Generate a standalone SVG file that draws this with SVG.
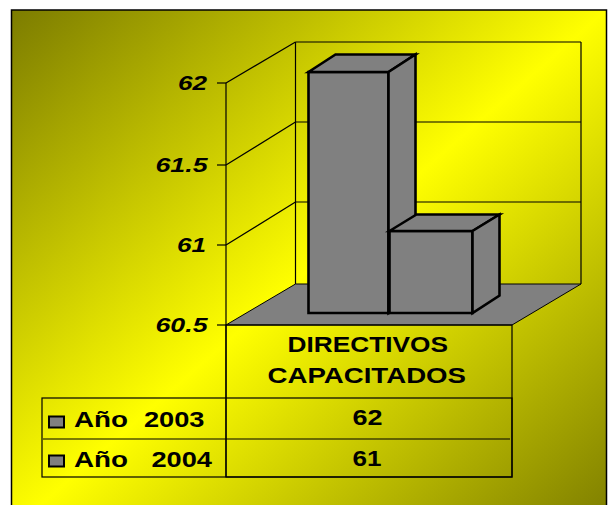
<svg xmlns="http://www.w3.org/2000/svg" width="611" height="505" viewBox="0 0 611 505">
  <defs>
    <linearGradient id="bg" x1="0" y1="0" x2="1" y2="1">
      <stop offset="0" stop-color="#7c7c00"/>
      <stop offset="0.5" stop-color="#ffff00"/>
      <stop offset="1" stop-color="#7c7c00"/>
    </linearGradient>
    <style>
      .ln { stroke: #000; stroke-width: 1.2; fill: none; }
      .bar { fill: #808080; stroke: #000; stroke-width: 2.6; stroke-linejoin: miter; }
      .ax { font-family: "Liberation Sans", Arial, sans-serif; font-weight: bold; font-style: italic; font-size: 21px; fill: #000; }
      .tx { font-family: "Liberation Sans", Arial, sans-serif; font-weight: bold; font-size: 22px; fill: #000; }
      .key { fill: #808080; stroke: #000; stroke-width: 2; }
    </style>
  </defs>
  <rect x="0" y="0" width="611" height="505" fill="#fff"/>
  <g id="chart-area">
    <rect x="11.5" y="10" width="595" height="520" fill="url(#bg)" stroke="#000" stroke-width="1.5"/>
  </g>
  <g id="walls">
    <polygon points="226,325 295.5,284 581,284 512,325" fill="#808080" stroke="#000" stroke-width="1"/>
    <line class="ln" x1="295.5" y1="42" x2="581" y2="42"/>
    <line class="ln" x1="295.5" y1="122" x2="581" y2="122"/>
    <line class="ln" x1="295.5" y1="202" x2="581" y2="202"/>
    <line class="ln" x1="581" y1="42" x2="581" y2="284"/>
    <line class="ln" x1="295.5" y1="42" x2="295.5" y2="284"/>
    <line class="ln" x1="226" y1="83" x2="295.5" y2="42"/>
    <line class="ln" x1="226" y1="165" x2="295.5" y2="122"/>
    <line class="ln" x1="226" y1="245" x2="295.5" y2="202"/>
    <line class="ln" x1="226" y1="83" x2="226" y2="477"/>
    <line class="ln" x1="217" y1="83" x2="226" y2="83"/>
    <line class="ln" x1="217" y1="165" x2="226" y2="165"/>
    <line class="ln" x1="217" y1="245" x2="226" y2="245"/>
    <line class="ln" x1="217" y1="325" x2="226" y2="325"/>
  </g>
  <g id="axis-labels">
    <text class="ax" x="178" y="90" textLength="29" lengthAdjust="spacingAndGlyphs">62</text>
    <text class="ax" x="155.5" y="172.3" textLength="52" lengthAdjust="spacingAndGlyphs">61.5</text>
    <text class="ax" x="177" y="251.7" textLength="29" lengthAdjust="spacingAndGlyphs">61</text>
    <text class="ax" x="155.5" y="331.7" textLength="52" lengthAdjust="spacingAndGlyphs">60.5</text>
  </g>
  <g id="bar-2003">
    <polygon class="bar" points="308.5,72 388.5,72 388.5,313 308.5,313"/>
    <polygon class="bar" points="308.5,72 335.5,54.5 415.5,54.5 388.5,72"/>
    <polygon class="bar" points="388.5,72 415.5,54.5 415.5,295.5 388.5,313"/>
  </g>
  <g id="bar-2004">
    <polygon class="bar" points="389.5,231 472.5,231 472.5,313 389.5,313"/>
    <polygon class="bar" points="389.5,231 416.5,214.5 499.5,214.5 472.5,231"/>
    <polygon class="bar" points="472.5,231 499.5,214.5 499.5,295.5 472.5,313"/>
  </g>
  <g id="data-table">
    <rect class="ln" x="226" y="325" width="286" height="152"/>
    <rect class="ln" x="42" y="398" width="470" height="79"/>
    <line class="ln" x1="43" y1="439" x2="510" y2="439"/>
    <text class="tx" x="287.5" y="351.7" textLength="160.5" lengthAdjust="spacingAndGlyphs">DIRECTIVOS</text>
    <text class="tx" x="267.5" y="382.7" textLength="198.5" lengthAdjust="spacingAndGlyphs">CAPACITADOS</text>
    <text class="tx" x="352.5" y="425" textLength="30" lengthAdjust="spacingAndGlyphs">62</text>
    <text class="tx" x="352.5" y="466" textLength="29" lengthAdjust="spacingAndGlyphs">61</text>
  </g>
  <g id="legend-2003">
    <rect class="key" x="49" y="416.5" width="15" height="11"/>
    <text class="tx" x="74" y="426.7" textLength="54" lengthAdjust="spacingAndGlyphs">Año</text>
    <text class="tx" x="144" y="426.7" textLength="60.5" lengthAdjust="spacingAndGlyphs">2003</text>
  </g>
  <g id="legend-2004">
    <rect class="key" x="49" y="455.5" width="15" height="11"/>
    <text class="tx" x="74" y="466.7" textLength="54" lengthAdjust="spacingAndGlyphs">Año</text>
    <text class="tx" x="151.5" y="466.7" textLength="60.5" lengthAdjust="spacingAndGlyphs">2004</text>
  </g>
</svg>
